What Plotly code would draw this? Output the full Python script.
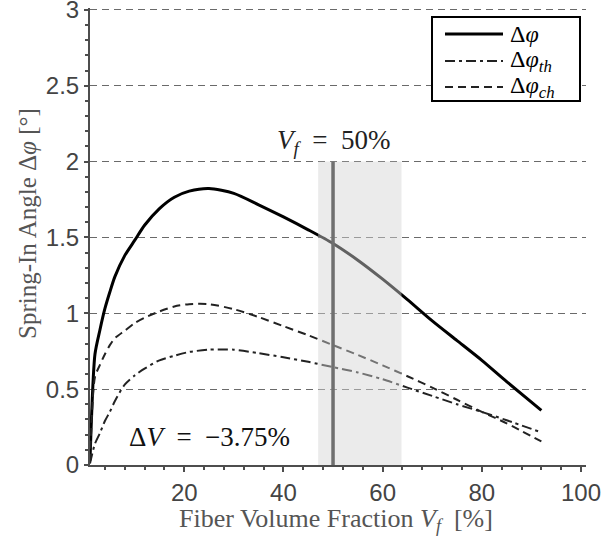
import plotly.graph_objects as go

# Fiber volume fraction [%]
vf = [1, 2, 3, 4, 5, 6, 8, 10, 12, 15, 18, 21, 25, 30, 35, 40, 45, 50, 55, 60, 65, 70, 75, 80, 85, 92]
# total spring-in angle
phi = [0.03, 0.73, 0.89, 1.03, 1.14, 1.24, 1.38, 1.48, 1.58, 1.69, 1.765, 1.805, 1.823, 1.79, 1.715,
       1.635, 1.55, 1.46, 1.35, 1.225, 1.09, 0.95, 0.82, 0.69, 0.55, 0.36]
# thermal part
phi_th = [0.01, 0.14, 0.21, 0.29, 0.35, 0.42, 0.53, 0.59, 0.635, 0.69, 0.72, 0.745, 0.76, 0.76, 0.737,
          0.71, 0.68, 0.645, 0.61, 0.565, 0.51, 0.455, 0.40, 0.35, 0.295, 0.215]
# chemical part
phi_ch = [0.02, 0.58, 0.66, 0.73, 0.79, 0.835, 0.885, 0.935, 0.97, 1.012, 1.045, 1.06, 1.06, 1.027, 0.975,
          0.915, 0.855, 0.79, 0.725, 0.657, 0.585, 0.51, 0.43, 0.35, 0.275, 0.155]

series_names = ["Δ<i>φ</i>", "Δ<i>φ<sub>th</sub></i>", "Δ<i>φ<sub>ch</sub></i>"]

band = [47.0, 63.8]
vf_nominal = 50
band_top = 2
x_ticks = [20, 40, 60, 80, 100]
y_ticks = [0, 0.5, 1, 1.5, 2, 2.5, 3]
y_ticktext = ["0", "0.5", "1", "1.5", "2", "2.5", "3"]

serif = "Liberation Serif"
sans = "Liberation Sans"
sp = "\u2002"

W, H = 606, 541
ML, MR, MT, MB = 90, 20, 8, 76
PW, PH = W - ML - MR, H - MT - MB


def px_x(px):
    return (px - ML) / PW


def px_y(py):
    return (H - MB - py) / PH


styles = [
    dict(color="black", width=3),
    dict(color="#222222", width=2, dash="10px,4px,3px,4px"),
    dict(color="#222222", width=2, dash="8px,5px"),
]

fig = go.Figure()
for ys, name, st in zip([phi, phi_th, phi_ch], series_names, styles):
    fig.add_trace(go.Scatter(x=vf, y=ys, mode="lines", name=name, showlegend=False,
                             line=dict(**st, shape="spline", smoothing=0.7)))
# translucent band over curves
fig.add_trace(go.Scatter(x=[band[0], band[1], band[1], band[0], band[0]],
                         y=[0, 0, band_top, band_top, 0], mode="lines", fill="toself",
                         fillcolor="rgba(211,211,211,0.46)", line=dict(width=0),
                         showlegend=False, hoverinfo="skip"))
fig.add_trace(go.Scatter(x=[vf_nominal, vf_nominal], y=[0, band_top], mode="lines",
                         line=dict(color="#6f6f6f", width=3.5), showlegend=False, hoverinfo="skip"))

fig.add_annotation(x=vf_nominal, y=band_top, yshift=1, text=f"<i>V<sub>f</sub></i>{sp}={sp}50%",
                   showarrow=False, yanchor="bottom", font=dict(family=serif, size=27, color="#222"))
fig.add_annotation(x=8.5, y=0, yshift=11, text=f"Δ<i>V</i>{sp}={sp}−3.75%", showarrow=False,
                   xanchor="left", yanchor="bottom", font=dict(family=serif, size=27, color="#111"))
# axis titles
fig.add_annotation(xref="paper", yref="paper", x=px_x(27), y=px_y(224),
                   text="Spring-In Angle Δ<i>φ</i> [°]", showarrow=False, textangle=-90,
                   xanchor="center", yanchor="middle", font=dict(family=serif, size=25, color="#555"))
fig.add_annotation(xref="paper", yref="paper", x=px_x(336), y=px_y(520),
                   text="Fiber Volume Fraction <i>V<sub>f</sub></i>  [%]", showarrow=False,
                   xanchor="center", yanchor="middle", font=dict(family=serif, size=26, color="#555"))

# legend box (drawn by hand to match the long line samples)
fig.add_shape(type="rect", xref="paper", yref="paper", x0=px_x(432), x1=px_x(580),
              y0=px_y(101), y1=px_y(17), line=dict(color="black", width=2), fillcolor="white",
              layer="above")
for row_y, name, st in zip([34, 61, 87], series_names, styles):
    fig.add_shape(type="line", xref="paper", yref="paper", x0=px_x(445), x1=px_x(503),
                  y0=px_y(row_y), y1=px_y(row_y), line=st, layer="above")
    fig.add_annotation(xref="paper", yref="paper", x=px_x(508), y=px_y(row_y), text=name,
                       showarrow=False, xanchor="left", yanchor="middle",
                       font=dict(family=serif, size=24, color="black"))

fig.update_layout(
    width=W, height=H,
    margin=dict(l=ML, r=MR, t=MT, b=MB),
    plot_bgcolor="white", paper_bgcolor="white",
    showlegend=False,
    xaxis=dict(range=[1, 101], tickvals=x_ticks, showgrid=False, zeroline=False, automargin=False,
               showline=True, linecolor="#4d4d4d", linewidth=2,
               ticks="outside", ticklen=5, tickwidth=2, tickcolor="#4d4d4d",
               minor=dict(dtick=4, tick0=0, ticks="outside", ticklen=3, tickwidth=1.5, tickcolor="#4d4d4d"),
               tickfont=dict(family=sans, size=24, color="#444"), ticklabeloverflow="allow"),
    yaxis=dict(range=[0, 3.012], tickvals=y_ticks, ticktext=y_ticktext, automargin=False,
               showgrid=True, gridcolor="#6a6a6a", gridwidth=1.3, griddash="7px,5px",
               zeroline=False, showline=True, linecolor="#4d4d4d", linewidth=2,
               ticks="outside", ticklen=4, tickwidth=2, tickcolor="#4d4d4d",
               minor=dict(dtick=0.1, tick0=0, ticks="outside", ticklen=3, tickwidth=1.5, tickcolor="#4d4d4d"),
               tickfont=dict(family=sans, size=24, color="#444"), ticklabeloverflow="allow"),
)

fig.write_html("out.html", config={"displayModeBar": False},
               post_script="document.body.style.margin='0';")
